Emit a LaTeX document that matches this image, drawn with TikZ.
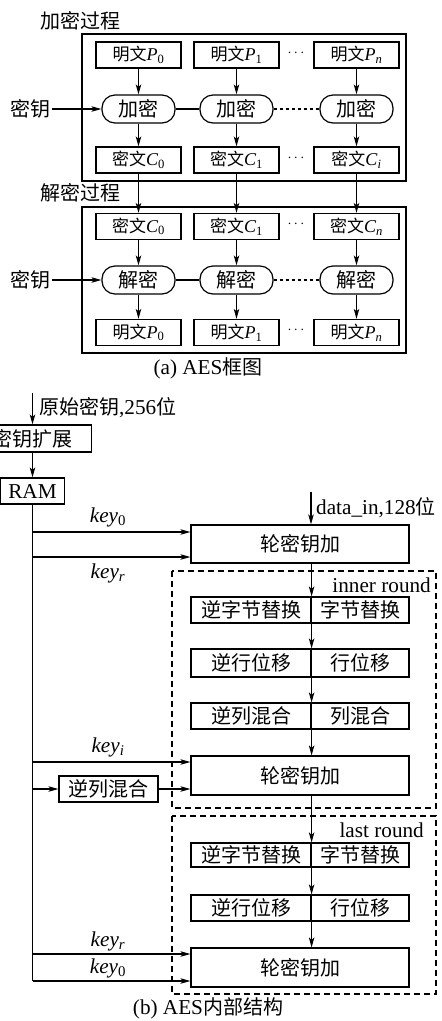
\documentclass[tikz,border=0pt]{standalone}
\usepackage{fontspec}
\setmainfont[Scale=1.06]{Liberation Serif}
\newfontfamily\cjk{Noto Sans CJK SC}
\usetikzlibrary{arrows.meta}
\newcommand{\zh}[1]{{\cjk #1}}
\tikzset{
  lab/.style={font=\fontsize{20}{22}\selectfont, inner sep=2pt},
  small/.style={font=\fontsize{17}{18}\selectfont},
  ln/.style={line width=1.2pt},
  arr/.style={ln, -{Stealth[length=10pt,width=5.5pt,inset=2.5pt]}},
  box/.style={draw, ln, inner sep=0pt, minimum height=26pt},
  pbox/.style={box, small, minimum width=85pt},
  ovalbox/.style={draw, ln, rounded corners=13pt, inner sep=0pt, minimum width=73pt, minimum height=28pt, lab},
  rbox/.style={box, lab, minimum width=218pt, minimum height=38pt},
  lbox/.style={box, lab, minimum width=120pt},
  rrbox/.style={box, lab, minimum width=98pt},
  frame/.style={draw, ln},
  dframe/.style={draw, ln, dash pattern=on 6pt off 4pt},
  keylab/.style={lab},
  dots/.style={font=\fontsize{15}{16}\selectfont, inner sep=0pt}
}
\begin{document}
\begin{tikzpicture}[x=1pt,y=-1pt]
\useasboundingbox (0,0) rectangle (442,1021);
% ---------- (a) ----------
\node[lab] (t1) at (81,21) {\zh{加密过程}};
\draw[frame] (82,34) rectangle (406,181);
\node[pbox] (ap0) at (138.5,55) {\zh{明文}\textit{P}\textsubscript{0}};
\node[pbox] (ap1) at (236.5,55) {\zh{明文}\textit{P}\textsubscript{1}};
\node[pbox] (apn) at (356.5,55) {\zh{明文}\textit{P}\textsubscript{\textit{n}}};
\node[dots] (ad1) at (296,53) {$\cdots$};
\node[ovalbox] (ae0) at (138.5,109) {\zh{加密}};
\node[ovalbox] (ae1) at (236.5,109) {\zh{加密}};
\node[ovalbox] (aen) at (356.5,109) {\zh{加密}};
\node[lab] (ak) at (30,109) {\zh{密钥}};
\node[pbox] (ac0) at (138.5,160) {\zh{密文}\textit{C}\textsubscript{0}};
\node[pbox] (ac1) at (236.5,160) {\zh{密文}\textit{C}\textsubscript{1}};
\node[pbox] (acn) at (356.5,160) {\zh{密文}\textit{C}\textsubscript{\textit{i}}};
\node[dots] (ad2) at (296,158) {$\cdots$};
\draw[arr] (ak) -- (ae0);
\draw[ln] (ae0) -- (ae1);
\draw[ln, dash pattern=on 3pt off 3pt] (ae1) -- (aen);
\foreach \i in {0,1,n} {
  \draw[arr] (ap\i) -- (ae\i);
  \draw[arr] (ae\i) -- (ac\i);
}
\node[lab] (t2) at (81,193) {\zh{解密过程}};
\draw[frame] (82,207) rectangle (406,353);
\node[pbox] (bc0) at (138.5,226.5) {\zh{密文}\textit{C}\textsubscript{0}};
\node[pbox] (bc1) at (236.5,226.5) {\zh{密文}\textit{C}\textsubscript{1}};
\node[pbox] (bcn) at (356.5,226.5) {\zh{密文}\textit{C}\textsubscript{\textit{n}}};
\node[dots] (bd1) at (296,224.5) {$\cdots$};
\node[ovalbox] (bd0) at (138.5,280) {\zh{解密}};
\node[ovalbox] (bdd1) at (236.5,280) {\zh{解密}};
\node[ovalbox] (bdn) at (356.5,280) {\zh{解密}};
\node[lab] (bk) at (30,280) {\zh{密钥}};
\node[pbox] (bp0) at (138.5,332.5) {\zh{明文}\textit{P}\textsubscript{0}};
\node[pbox] (bp1) at (236.5,332.5) {\zh{明文}\textit{P}\textsubscript{1}};
\node[pbox] (bpn) at (356.5,332.5) {\zh{明文}\textit{P}\textsubscript{\textit{n}}};
\node[dots] (bd2) at (296,330.5) {$\cdots$};
\draw[arr] (bk) -- (bd0);
\draw[ln] (bd0) -- (bdd1);
\draw[ln, dash pattern=on 3pt off 3pt] (bdd1) -- (bdn);
\draw[arr] (ac0) -- (bc0);
\draw[arr] (ac1) -- (bc1);
\draw[arr] (acn) -- (bcn);
\draw[arr] (bc0) -- (bd0);
\draw[arr] (bc1) -- (bdd1);
\draw[arr] (bcn) -- (bdn);
\draw[arr] (bd0) -- (bp0);
\draw[arr] (bdd1) -- (bp1);
\draw[arr] (bdn) -- (bpn);
\node[lab] (capa) at (208,368) {(a) AES\zh{框图}};
% ---------- (b) ----------
\coordinate (kin) at (32.5,393);
\node[lab, anchor=west] (kinlab) at (37,408) {\zh{原始密钥},256\zh{位}};
\node[box, lab, minimum width=118pt, minimum height=27pt] (kx) at (32.5,438.5) {\zh{密钥扩展}};
\node[box, lab, minimum width=64pt] (ram) at (32.5,491) {RAM};
\draw[arr] (kin) -- (kx);
\draw[arr] (kx) -- (ram);
\coordinate (vend) at (32.5,981);
\draw[ln] (ram.south) -- (vend);
% dashed frames
\draw[dframe] (172,571) rectangle (436,808);
\draw[dframe] (172,816) rectangle (436,994);
\node[lab, anchor=east] (inr) at (433,585) {inner round};
\node[lab, anchor=east] (lar) at (426,830) {last round};
% main column
\node[rbox] (r1) at (300,544) {\zh{轮密钥加}};
\node[lbox] (s1l) at (251,610) {\zh{逆字节替换}};
\node[rrbox] (s1r) at (360,610) {\zh{字节替换}};
\node[lbox, minimum height=28pt] (s2l) at (251,663) {\zh{逆行位移}};
\node[rrbox, minimum height=28pt] (s2r) at (360,663) {\zh{行位移}};
\node[lbox] (s3l) at (251,716) {\zh{逆列混合}};
\node[rrbox] (s3r) at (360,716) {\zh{列混合}};
\node[rbox, minimum height=39pt] (r2) at (300,775.5) {\zh{轮密钥加}};
\node[lbox, minimum height=24pt] (s4l) at (251,855) {\zh{逆字节替换}};
\node[rrbox, minimum height=24pt] (s4r) at (360,855) {\zh{字节替换}};
\node[lbox] (s5l) at (251,908) {\zh{逆行位移}};
\node[rrbox] (s5r) at (360,908) {\zh{行位移}};
\node[rbox, minimum height=39pt] (r3) at (300,967.5) {\zh{轮密钥加}};
\coordinate (din) at (311,492);
\node[lab, anchor=west] (dinlab) at (314,508) {data\_in,128\zh{位}};
\draw[arr] (din) -- (din |- r1.north);
\draw[arr] (r1.south -| s1l.east) -- (s1l.north east);
\draw[arr] (s1l.south east) -- (s2l.north east);
\draw[arr] (s2l.south east) -- (s3l.north east);
\draw[arr] (s3l.south east) -- (s3l.south east |- r2.north);
\draw[arr] (r2.south -| s4l.east) -- (s4l.north east);
\draw[arr] (s4l.south east) -- (s5l.north east);
\draw[arr] (s5l.south east) -- (s5l.south east |- r3.north);
% key branches
\coordinate (b1) at (32.5,532);
\coordinate (b2) at (32.5,557);
\coordinate (b3) at (32.5,762);
\coordinate (b4) at (32.5,789);
\coordinate (b5) at (32.5,954);
\draw[arr] (b1) -- (b1 -| r1.west);
\draw[arr] (b2) -- (b2 -| r1.west);
\draw[arr] (b3) -- (b3 -| r2.west);
\node[box, lab, minimum width=99pt] (imc) at (108.5,789) {\zh{逆列混合}};
\draw[arr] (b4) -- (imc);
\draw[arr] (imc) -- (imc -| r2.west);
\draw[arr] (b5) -- (b5 -| r3.west);
\draw[arr] (vend) -- (vend -| r3.west);
\node[keylab] (kl1) at (108,517) {\textit{key}\textsubscript{0}};
\node[keylab] (kl2) at (108,573) {\textit{key}\textsubscript{\textit{r}}};
\node[keylab] (kl3) at (108,747) {\textit{key}\textsubscript{\textit{i}}};
\node[keylab] (kl4) at (108,941) {\textit{key}\textsubscript{\textit{r}}};
\node[keylab] (kl5) at (108,968) {\textit{key}\textsubscript{0}};
\node[lab] (capb) at (208,1008) {(b) AES\zh{内部结构}};
\end{tikzpicture}
\end{document}
